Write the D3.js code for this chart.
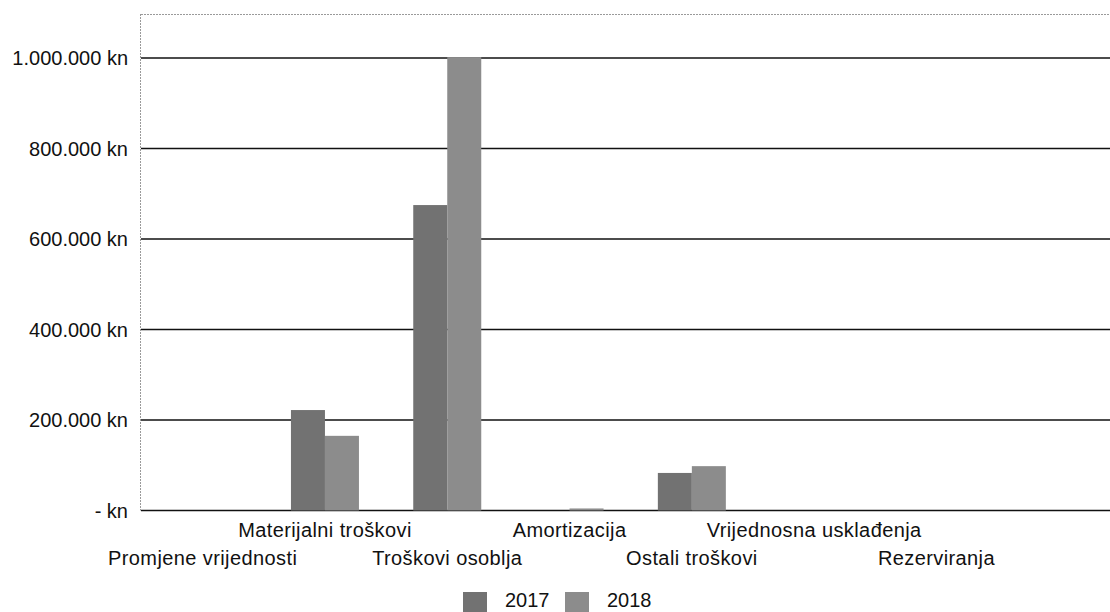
<!DOCTYPE html>
<html>
<head>
<meta charset="utf-8">
<script src="https://cdn.jsdelivr.net/npm/d3@7/dist/d3.min.js"></script>
<style>
  html, body { margin: 0; padding: 0; background: #ffffff; }
  svg { display: block; }
</style>
</head>
<body>
<svg id="chart" width="1110" height="612"></svg>
<script>
// ---- data ----
const categories = [
  "Promjene vrijednosti",
  "Materijalni troškovi",
  "Troškovi osoblja",
  "Amortizacija",
  "Ostali troškovi",
  "Vrijednosna usklađenja",
  "Rezerviranja"
];
const seriesNames = ["2017", "2018"];
const values2017 = [0, 222000, 675000, 0, 83000, 0, 0];
const values2018 = [0, 165000, 1002000, 4500, 98000, 0, 0];
const yTicks = [0, 200000, 400000, 600000, 800000, 1000000];
const yTickLabels = ["- kn", "200.000 kn", "400.000 kn", "600.000 kn", "800.000 kn", "1.000.000 kn"];
const seriesColors = ["#727272", "#8c8c8c"];

// ---- layout ----
const W = 1110, H = 612;
const plotLeft = 141, plotRight = 1110, plotTop = 14, plotBottom = 510.5;
const step = 122.3;

const svg = d3.select("#chart");

const x = d3.scaleBand()
  .domain(categories)
  .range([141.5, 141.5 + step * categories.length])
  .paddingInner(0.444)
  .paddingOuter(0.222);

const xSub = d3.scaleBand()
  .domain(seriesNames)
  .range([0, x.bandwidth()]);

const y = d3.scaleLinear()
  .domain([0, 1000000])
  .range([plotBottom, 58]);

// top dotted border
svg.append("line")
  .attr("x1", plotLeft).attr("x2", plotRight)
  .attr("y1", plotTop + 0.5).attr("y2", plotTop + 0.5)
  .attr("stroke", "#9a9a9a").attr("stroke-width", 1)
  .attr("stroke-dasharray", "2,1");

// left dotted axis
svg.append("line")
  .attr("x1", plotLeft - 0.5).attr("x2", plotLeft - 0.5)
  .attr("y1", plotTop).attr("y2", plotBottom)
  .attr("stroke", "#9a9a9a").attr("stroke-width", 1)
  .attr("stroke-dasharray", "2,1");

// gridlines (including baseline)
svg.append("g")
  .selectAll("line")
  .data(yTicks)
  .join("line")
  .attr("x1", plotLeft).attr("x2", plotRight)
  .attr("y1", d => y(d)).attr("y2", d => y(d))
  .attr("stroke", "#111").attr("stroke-width", 1.6);

// y labels
svg.append("g")
  .selectAll("text")
  .data(yTicks)
  .join("text")
  .attr("x", 128)
  .attr("y", d => y(d))
  .attr("dy", "0.36em")
  .attr("text-anchor", "end")
  .attr("font-family", "'Liberation Sans', Arial, sans-serif")
  .attr("font-size", 20)
  .attr("fill", "#111")
  .text((d, i) => yTickLabels[i]);

// bars
const seriesValues = [values2017, values2018];
const rows = [];
categories.forEach((c, i) => {
  seriesNames.forEach((s, j) => {
    rows.push({ cat: c, series: s, idx: j, value: seriesValues[j][i] });
  });
});

svg.append("g")
  .selectAll("rect")
  .data(rows.filter(d => d.value > 0))
  .join("rect")
  .attr("x", d => x(d.cat) + xSub(d.series))
  .attr("width", xSub.bandwidth())
  .attr("y", d => y(d.value))
  .attr("height", d => y(0) - y(d.value))
  .attr("fill", d => seriesColors[d.idx]);

// category labels (staggered in two rows)
svg.append("g")
  .selectAll("text")
  .data(categories)
  .join("text")
  .attr("x", d => x(d) + x.bandwidth() / 2)
  .attr("y", (d, i) => i % 2 === 1 ? 537 : 565)
  .attr("text-anchor", "middle")
  .attr("font-family", "'Liberation Sans', Arial, sans-serif")
  .attr("font-size", 20)
  .attr("letter-spacing", 0.4)
  .attr("fill", "#111")
  .text(d => d);

// legend
const legendItems = [
  { name: seriesNames[0], color: seriesColors[0], sx: 463, tx: 505 },
  { name: seriesNames[1], color: seriesColors[1], sx: 565, tx: 607 }
];
const lg = svg.append("g");
lg.selectAll("rect")
  .data(legendItems)
  .join("rect")
  .attr("x", d => d.sx).attr("y", 592)
  .attr("width", 24).attr("height", 20)
  .attr("fill", d => d.color);
lg.selectAll("text")
  .data(legendItems)
  .join("text")
  .attr("x", d => d.tx).attr("y", 607)
  .attr("font-family", "'Liberation Sans', Arial, sans-serif")
  .attr("font-size", 20)
  .attr("fill", "#111")
  .text(d => d.name);
</script>
</body>
</html>
